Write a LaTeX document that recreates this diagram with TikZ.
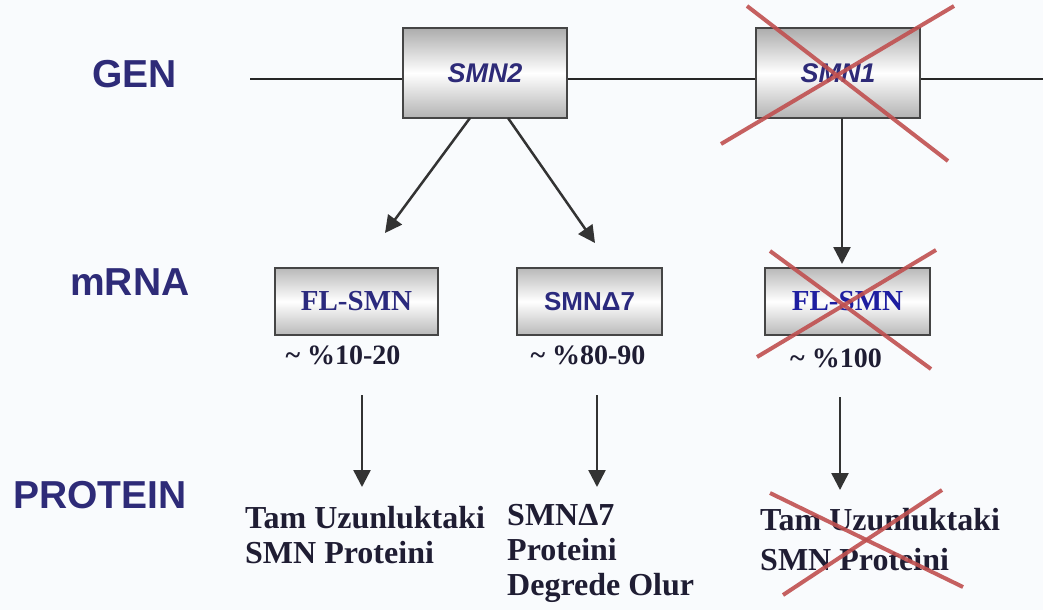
\documentclass[tikz,border=0pt]{standalone}
\usepackage{fontspec}
\setmainfont{Liberation Serif}
\setsansfont{Liberation Sans}
\usetikzlibrary{arrows.meta,calc}

\definecolor{bg}{HTML}{F9FBFD}
\definecolor{lblue}{HTML}{2E2B78}
\definecolor{boxtxt}{HTML}{2B2A7E}
\definecolor{boxtxtb}{HTML}{1E1EA0}
\definecolor{ink}{HTML}{1F1D33}
\definecolor{crossred}{HTML}{C05050}
\definecolor{frame}{HTML}{454545}
\definecolor{arrowgray}{HTML}{333333}

\tikzset{
  rowlabel/.style={font=\sffamily\bfseries\fontsize{39}{39}\selectfont, text=lblue, inner sep=0pt},
  genebox/.style={draw=frame, line width=2.5pt, minimum width=164pt, minimum height=90pt,
    top color=gray!65, bottom color=gray!60, middle color=white, shading angle=0,
    font=\sffamily\bfseries\itshape\fontsize{27}{27}\selectfont, text=lblue, inner sep=0pt},
  rnabox/.style={draw=frame, line width=2.5pt, minimum height=67pt,
    top color=gray!55, bottom color=gray!55, middle color=white, inner sep=0pt},
  pct/.style={font=\bfseries\fontsize{28}{28}\selectfont, text=ink, inner sep=0pt},
  prot/.style={font=\bfseries\fontsize{32}{35}\selectfont, text=ink, align=left, inner sep=0pt, anchor=north west},
  arr/.style={draw=arrowgray, line width=2.5pt, -{Triangle[length=17pt,width=17pt]}},
  cross/.style={draw=crossred, line width=4pt, opacity=0.9},
}

\begin{document}
\begin{tikzpicture}[x=1pt,y=-1pt]
  \fill[bg] (0,0) rectangle (1043,610);
  \useasboundingbox (0,0) rectangle (1043,610);

  % row labels
  \node[rowlabel, anchor=base west] (lgen)  at (92,87)  {GEN};
  \node[rowlabel, anchor=base west] (lmrna) at (70,295) {mRNA};
  \node[rowlabel, anchor=base west] (lprot) at (13,508) {PROTEIN};

  % gene strand with the two genes
  \coordinate (strandL) at (250,79);
  \coordinate (strandR) at (1043,79);
  \draw[line width=2pt, black!85] (strandL) -- (strandR);
  \node[genebox] (smn2) at (485,73) {SMN2};
  \node[genebox] (smn1) at (838,73) {SMN1};

  % transcripts
  \node[rnabox, minimum width=163pt, font=\bfseries\fontsize{29}{29}\selectfont, text=boxtxt] (fl1) at (356.5,301.5) {FL-SMN};
  \node[rnabox, minimum width=145pt, font=\sffamily\bfseries\fontsize{26}{26}\selectfont, text=boxtxt] (d7) at (589.5,301.5) {SMNΔ7};
  \node[rnabox, minimum width=165pt, font=\bfseries\fontsize{29}{29}\selectfont, text=boxtxtb] (fl3) at (847.5,301.5) {FL-SMN};

  % transcript fractions
  \node[pct] (p1) at (343,355) {\textasciitilde\ \%10-20};
  \node[pct] (p2) at (588,355) {\textasciitilde\ \%80-90};
  \node[pct] (p3) at (836,358) {\textasciitilde\ \%100};

  % protein products
  \node[prot] (pr1) at (245,506) {Tam Uzunluktaki\\SMN Proteini};
  \node[prot] (pr2) at (507,504) {SMNΔ7\\Proteini\\Degrede Olur};
  \node[prot, font=\bfseries\fontsize{32}{40}\selectfont] (pr3) at (760,508) {Tam Uzunluktaki\\SMN Proteini};

  % arrows gene -> mRNA
  \coordinate (a1s) at (470,118);  \coordinate (a1e) at (385,233);
  \coordinate (a2s) at (508,118);  \coordinate (a2e) at (595,243);
  \coordinate (a3s) at (842,118);  \coordinate (a3e) at (842,264);
  \draw[arr] (a1s) -- (a1e);
  \draw[arr] (a2s) -- (a2e);
  \draw[arr] (a3s) -- (a3e);

  % arrows mRNA -> protein
  \coordinate (b1s) at (362,395);  \coordinate (b1e) at (362,487);
  \coordinate (b2s) at (597,395);  \coordinate (b2e) at (597,487);
  \coordinate (b3s) at (840,397);  \coordinate (b3e) at (840,490);
  \draw[arr] (b1s) -- (b1e);
  \draw[arr] (b2s) -- (b2e);
  \draw[arr] (b3s) -- (b3e);

  % crossed-out SMN1 pathway
  \draw[cross] (747,6) -- (948,161);
  \draw[cross] (954,6) -- (721,144);
  \draw[cross] (770,251) -- (931,369);
  \draw[cross] (936,250) -- (757,357);
  \draw[cross] (770,493) -- (963,587);
  \draw[cross] (942,490) -- (783,595);
\end{tikzpicture}
\end{document}
